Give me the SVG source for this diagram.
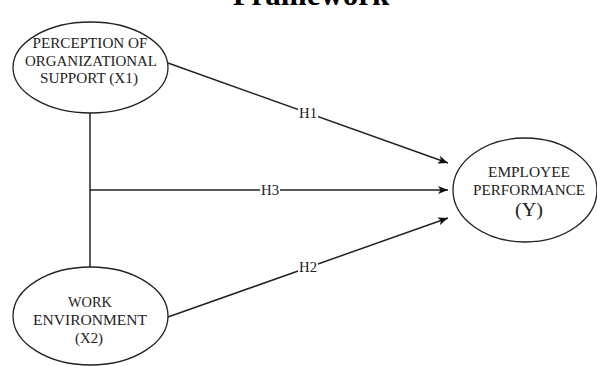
<svg xmlns="http://www.w3.org/2000/svg" width="597" height="366" viewBox="0 0 597 366">
<style>
.node{fill:#fff;stroke:#222;stroke-width:1.3}
.t{font-family:"Liberation Serif","Times New Roman",serif;font-size:15px;fill:#222;text-anchor:middle}
.c{fill:none;stroke:#222;stroke-width:1.5}
.lbl{font-family:"Liberation Serif","Times New Roman",serif;font-size:15px;fill:#222;text-anchor:middle}
.title{font-family:"Liberation Serif","Times New Roman",serif;font-size:31px;font-weight:bold;fill:#000;text-anchor:middle}
</style>
<defs>
<marker id="arr" markerWidth="10" markerHeight="8" refX="10" refY="4" orient="auto" markerUnits="userSpaceOnUse">
<path d="M0,0 L10,4 L0,8 L2.5,4 Z" fill="#111"/>
</marker>
</defs>
<rect width="597" height="366" fill="#fff"/>
<text class="title" x="311" y="5">Framework</text>
<g id="connectors">
<line class="c" x1="90" y1="113" x2="90" y2="267"/>
<line class="c" x1="90" y1="190" x2="448" y2="190" marker-end="url(#arr)"/>
<line class="c" x1="168" y1="63" x2="448" y2="163" marker-end="url(#arr)"/>
<line class="c" x1="168" y1="317" x2="448" y2="218" marker-end="url(#arr)"/>
<rect x="298" y="106" width="20" height="14" fill="#fff"/>
<text class="lbl" x="308" y="118" textLength="18" lengthAdjust="spacingAndGlyphs">H1</text>
<rect x="260" y="183" width="20" height="14" fill="#fff"/>
<text class="lbl" x="270" y="195" textLength="18" lengthAdjust="spacingAndGlyphs">H3</text>
<rect x="298" y="260" width="20" height="14" fill="#fff"/>
<text class="lbl" x="308" y="272" textLength="18" lengthAdjust="spacingAndGlyphs">H2</text>
</g>
<g id="x1">
<ellipse class="node" cx="90.5" cy="67.5" rx="77.5" ry="45.5"/>
<text class="t" x="90" y="48" textLength="115" lengthAdjust="spacingAndGlyphs">PERCEPTION OF</text>
<text class="t" x="91" y="65.5" textLength="132" lengthAdjust="spacingAndGlyphs">ORGANIZATIONAL</text>
<text class="t" x="89" y="83" textLength="98" lengthAdjust="spacingAndGlyphs">SUPPORT (X1)</text>
</g>
<g id="x2">
<ellipse class="node" cx="90.5" cy="316" rx="77.5" ry="49"/>
<text class="t" x="90" y="307" textLength="44" lengthAdjust="spacingAndGlyphs">WORK</text>
<text class="t" x="90" y="325" textLength="114" lengthAdjust="spacingAndGlyphs">ENVIRONMENT</text>
<text class="t" x="89" y="343" textLength="28" lengthAdjust="spacingAndGlyphs">(X2)</text>
</g>
<g id="y">
<ellipse class="node" cx="525" cy="190" rx="72" ry="52"/>
<text class="t" x="529" y="177" textLength="82" lengthAdjust="spacingAndGlyphs">EMPLOYEE</text>
<text class="t" x="529" y="195" textLength="112" lengthAdjust="spacingAndGlyphs">PERFORMANCE</text>
<text class="t" x="529" y="216" style="font-size:19px" textLength="28" lengthAdjust="spacingAndGlyphs">(Y)</text>
</g>
</svg>
